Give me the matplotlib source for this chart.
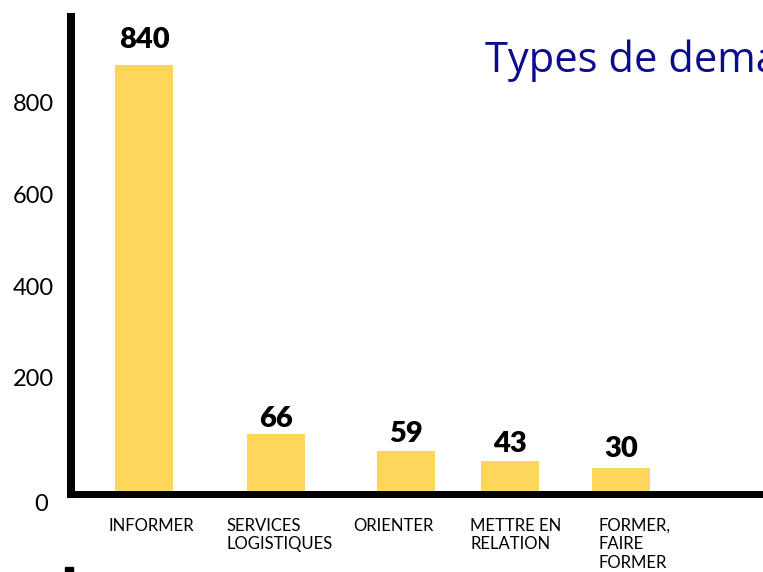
import matplotlib.pyplot as plt
from matplotlib.patches import Rectangle

plt.rcParams['font.family'] = ['Lato', 'DejaVu Sans']

# Données
categories = ["INFORMER", "SERVICES\nLOGISTIQUES", "ORIENTER", "METTRE EN\nRELATION", "FORMER,\nFAIRE\nFORMER"]
valeurs = [840, 66, 59, 43, 30]
# hauteur du haut des barres telle que dessinée (échelle de l'axe)
hauts_barres = [880, 78, 41, 20, 4]
graduations = [200, 400, 600, 800]

# mise en page (positions en centaines de pixels)
pos_barres = [0.73, 2.05, 3.35, 4.39, 5.50]
pos_etiquettes = [0.37, 1.55, 2.82, 3.99, 5.27]
ecart_valeurs = [17, 7, 9, 9, 11]

jaune = "#FED65B"
bleu = "#0c0c8e"

fig = plt.figure(figsize=(7.63, 5.72), dpi=100)
ax = fig.add_axes([71 / 763, 78.5 / 572, 692 / 763, 476.5 / 572])

plancher = -51.1
ax.set_ylim(plancher, 984.8)
ax.set_xlim(0, 6.92)

hauteurs = [h - plancher for h in hauts_barres]
ax.bar(pos_barres, hauteurs, bottom=plancher, width=0.58, color=jaune, zorder=1)

for x, h, v, d in zip(pos_barres, hauts_barres, valeurs, ecart_valeurs):
    ax.annotate(str(v), (x, h), xytext=(0, d), textcoords="offset pixels",
                ha="center", va="baseline", fontsize=21, fontweight="heavy")

ax.spines["top"].set_visible(False)
ax.spines["right"].set_visible(False)
ax.spines["left"].set_linewidth(5.8)
ax.spines["bottom"].set_linewidth(5.0)
ax.spines["left"].set_capstyle("projecting")
ax.spines["bottom"].set_capstyle("projecting")

ax.set_yticks(graduations)
ax.set_yticklabels([str(g) for g in graduations], fontsize=17)
ax.tick_params(axis="y", length=0, pad=12)
ax.text(-23 / 692, -69.6, "0", transform=ax.get_yaxis_transform(),
        ha="right", va="center_baseline", fontsize=17, clip_on=False)

ax.set_xticks(pos_etiquettes)
ax.set_xticklabels(categories, fontsize=12, ha="left", va="top", linespacing=1.2)
ax.tick_params(axis="x", length=0, pad=17.5)

fig.text(485 / 763, 1 - 72 / 572, "Types de demandes", color=bleu,
         fontsize=30, ha="left", va="baseline", family=["Open Sans", "DejaVu Sans"])

fig.add_artist(Rectangle((65 / 763, 0), 8 / 763, 5 / 572,
                         transform=fig.transFigure, color="black"))

fig.savefig("out.png", dpi=100)
